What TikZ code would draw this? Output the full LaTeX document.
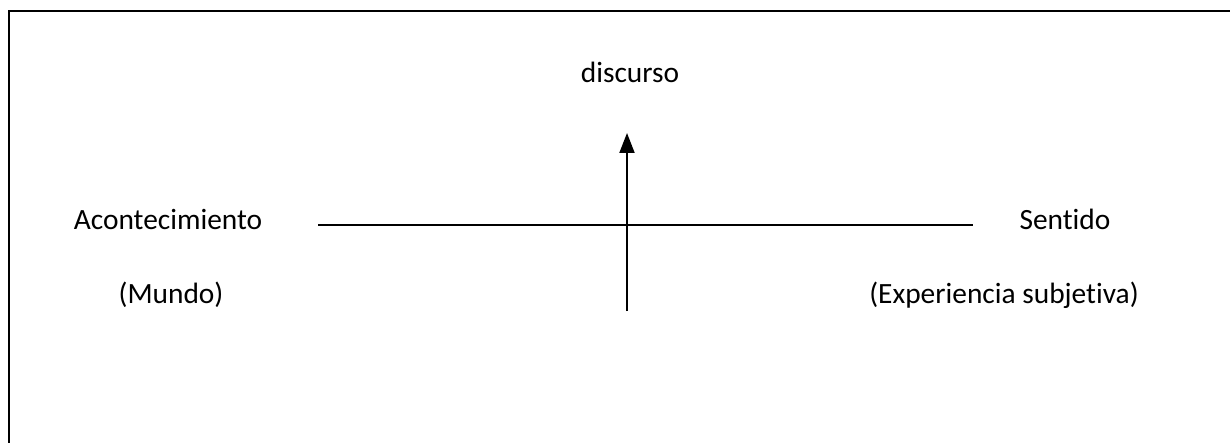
\documentclass[tikz,border=0pt]{standalone}
\usepackage{fontspec}
\setmainfont{Carlito}[Ligatures={NoCommon}]
\usetikzlibrary{arrows.meta}
\begin{document}
\begin{tikzpicture}[x=1pt,y=-1pt,
  lbl/.style={anchor=base,inner sep=0pt,font=\fontsize{29.4}{34}\selectfont},
  axis/.style={line width=1.5pt,black}]
\useasboundingbox (0,0) rectangle (1230,443);
\begin{scope}
\clip (0,0) rectangle (1230,443);
\draw[line width=2pt] (9,11) rectangle (1260,470);
\end{scope}
\node[lbl] (disc) at (630,83) {discurso};
\node[lbl] (acon) at (168,230) {Acontecimiento};
\node[lbl] (mundo) at (171,303) {(Mundo)};
\node[lbl] (sent) at (1065,230) {Sentido};
\node[lbl] (exp) at (1004,303) {(Experiencia subjetiva)};
\coordinate (hl) at (318,225);
\coordinate (hr) at (973,225);
\coordinate (vb) at (627,311);
\coordinate (vt) at (627,133);
\draw[axis] (hl) -- (hr);
\draw[line width=2pt,-{Triangle[length=20pt,width=15pt]}] (vb) -- (vt);
\end{tikzpicture}
\end{document}
